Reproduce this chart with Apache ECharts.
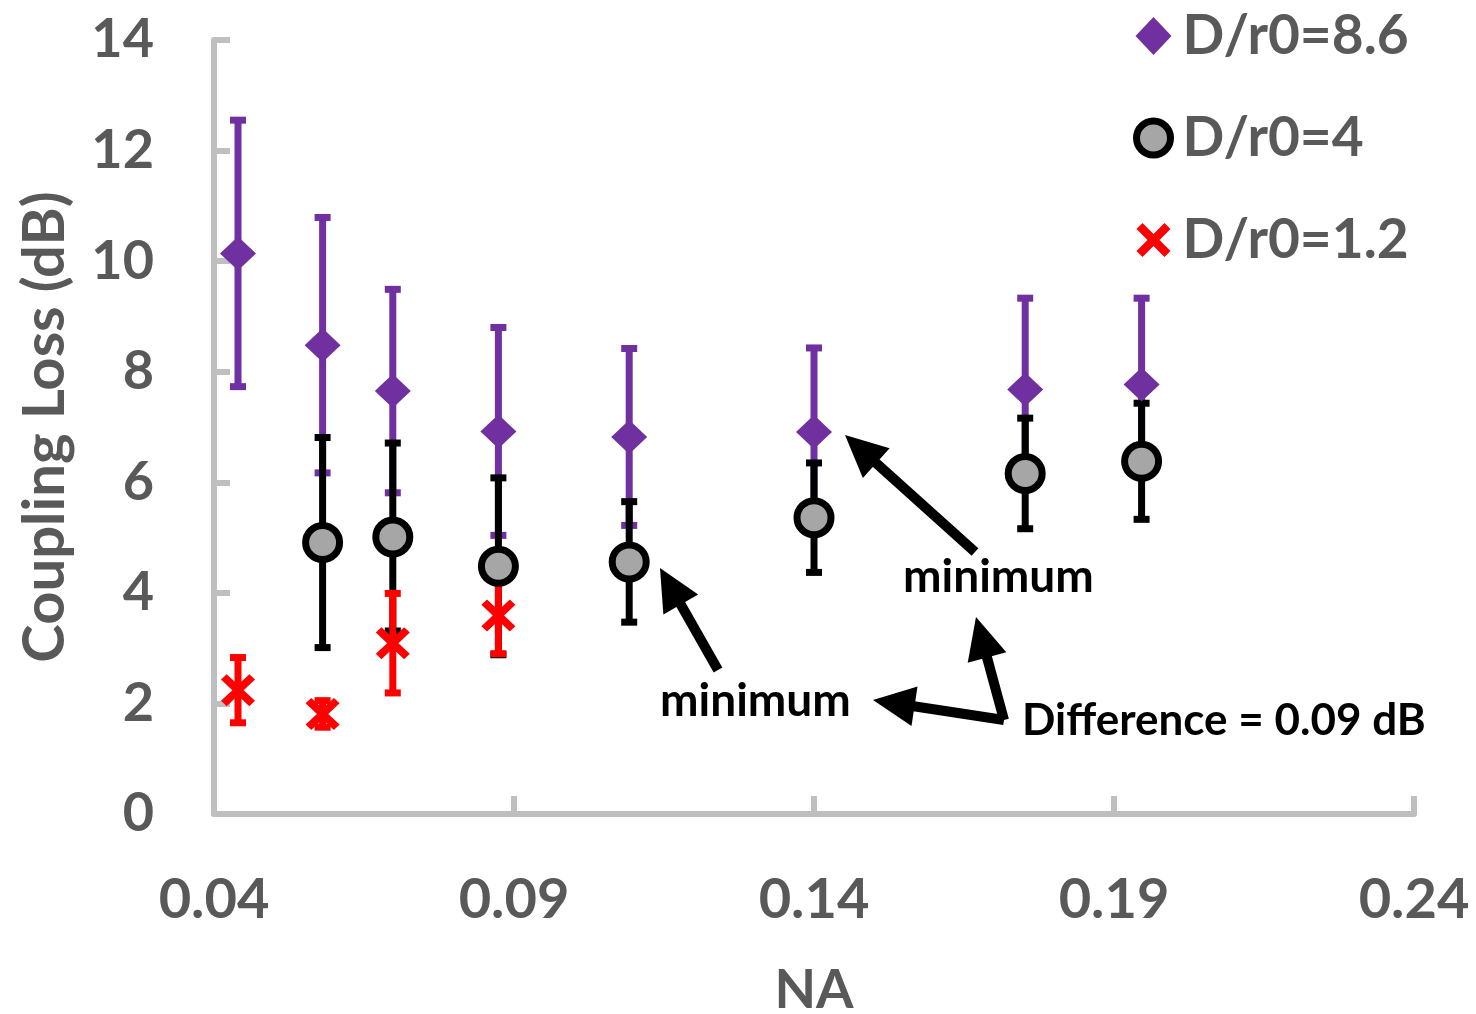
<!DOCTYPE html>
<html>
<head>
<meta charset="utf-8">
<script src="https://cdn.jsdelivr.net/npm/echarts@6/dist/echarts.min.js"></script>
<style>
  html, body { margin: 0; padding: 0; background: #fff; }
  #chart { width: 1476px; height: 1014px; }
</style>
</head>
<body>
<div id="chart"></div>
<script>
// data
const naPurple = [0.0440, 0.0581, 0.0698, 0.0874, 0.1092, 0.1400, 0.1752, 0.1946];
const lossPurple = [10.14, 8.48, 7.65, 6.92, 6.82, 6.91, 7.68, 7.77];
const errPurple = [2.41, 2.31, 1.84, 1.88, 1.60, 1.52, 1.65, 1.56];

const naBlack = [0.0581, 0.0698, 0.0874, 0.1092, 0.1400, 0.1752, 0.1946];
const lossBlack = [4.91, 5.01, 4.48, 4.56, 5.36, 6.16, 6.38];
const errBlack = [1.90, 1.70, 1.60, 1.09, 0.99, 1.00, 1.05];

const naRed = [0.0440, 0.0581, 0.0698, 0.0874];
const lossRed = [2.24, 1.81, 3.09, 3.59];
const errRed = [0.59, 0.24, 0.90, 0.69];

const xTicks = [0.04, 0.09, 0.14, 0.19, 0.24];
const seriesNames = ["D/r0=8.6", "D/r0=4", "D/r0=1.2"];

const GREY = "#595959";
const AXIS = "#BFBFBF";
const FONT = "Lato";
const crossPath = "path://M0,5L5,0L15,10L25,0L30,5L20,15L30,25L25,30L15,20L5,30L0,25L10,15Z";

function pts(xs, ys) {
  return xs.map((x, i) => [x, ys[i]]);
}
function bars(xs, ys, es) {
  return xs.map((x, i) => [x, ys[i] - es[i], ys[i] + es[i]]);
}

function errRender(color) {
  return function (params, api) {
    var top = api.coord([api.value(0), api.value(2)]);
    var bot = api.coord([api.value(0), api.value(1)]);
    var cap = 8;
    var st = { stroke: color, lineWidth: 7 };
    return {
      type: "group",
      children: [
        { type: "line", shape: { x1: top[0], y1: top[1], x2: bot[0], y2: bot[1] }, style: st },
        { type: "line", shape: { x1: top[0] - cap, y1: top[1], x2: top[0] + cap, y2: top[1] }, style: st },
        { type: "line", shape: { x1: bot[0] - cap, y1: bot[1], x2: bot[0] + cap, y2: bot[1] }, style: st },
      ],
    };
  };
}

// arrow annotation (pixel positions on the page)
function arrow(x1, y1, x2, y2) {
  var dx = x2 - x1, dy = y2 - y1;
  var len = Math.sqrt(dx * dx + dy * dy);
  var ux = dx / len, uy = dy / len;
  var L = 42, W = 20;
  var bx = x2 - ux * L, by = y2 - uy * L;
  return [
    { type: "line", shape: { x1: x1, y1: y1, x2: bx + ux * 4, y2: by + uy * 4 },
      style: { stroke: "#000", lineWidth: 10 }, z: 10 },
    { type: "polygon", shape: { points: [[x2, y2], [bx - uy * W, by + ux * W], [bx + uy * W, by - ux * W]] },
      style: { fill: "#000" }, z: 10 },
  ];
}

var chart = echarts.init(document.getElementById("chart"));

chart.setOption({
  animation: false,
  grid: { left: 214, right: 62, top: 40, bottom: 200, outerBoundsMode: "none" },
  legend: {
    orient: "vertical",
    left: 1125,
    top: 1,
    itemWidth: 40,
    itemHeight: 40,
    itemGap: 42,
    selectedMode: false,
    textStyle: { color: GREY, fontFamily: FONT, fontWeight: "bold", fontSize: 55, lineHeight: 60, padding: [0, 0, 0, 4] },
    data: [
      { name: seriesNames[0], icon: "path://M0,0M40,40M20,1L38,20L20,39L2,20Z" },
      { name: seriesNames[1], icon: "path://M0,0M40,40M37,20A17,17 0 1 1 3,20A17,17 0 1 1 37,20Z",
        itemStyle: { borderWidth: 7, borderColor: "#000" } },
      { name: seriesNames[2], icon: "path://M0,0M40,40M3,9L9,3L20,14L31,3L37,9L26,20L37,31L31,37L20,26L9,37L3,31L14,20Z" },
    ],
  },
  xAxis: {
    type: "value",
    min: 0.04,
    max: 0.24,
    name: "NA",
    nameLocation: "middle",
    nameGap: 150,
    nameTextStyle: { color: GREY, fontFamily: FONT, fontWeight: "bold", fontSize: 54 },
    axisLine: { lineStyle: { color: AXIS, width: 6 } },
    axisTick: { show: true, inside: true, length: 18, customValues: xTicks, lineStyle: { color: AXIS, width: 6 } },
    axisLabel: {
      customValues: xTicks,
      margin: 58,
      color: GREY,
      fontFamily: FONT,
      fontWeight: "bold",
      fontSize: 56,
      formatter: (v) => v.toFixed(2),
    },
    splitLine: { show: false },
  },
  yAxis: {
    type: "value",
    min: 0,
    max: 14,
    interval: 2,
    name: "Coupling Loss (dB)",
    nameLocation: "middle",
    nameGap: 140,
    nameTextStyle: { color: GREY, fontFamily: FONT, fontWeight: "bold", fontSize: 58 },
    axisLine: { show: true, lineStyle: { color: AXIS, width: 6 } },
    axisTick: { show: true, inside: true, length: 16, lineStyle: { color: AXIS, width: 6 } },
    axisLabel: { margin: 60, color: GREY, fontFamily: FONT, fontWeight: "bold", fontSize: 54 },
    splitLine: { show: false },
  },
  series: [
    { name: "err86", type: "custom", renderItem: errRender("#7030A0"), data: bars(naPurple, lossPurple, errPurple), z: 2 },
    { name: "err4", type: "custom", renderItem: errRender("#000000"), data: bars(naBlack, lossBlack, errBlack), z: 2 },
    { name: "err12", type: "custom", renderItem: errRender("#FF0000"), data: bars(naRed, lossRed, errRed), z: 2 },
    {
      name: seriesNames[0],
      type: "scatter",
      symbol: "diamond",
      symbolSize: [36, 34],
      itemStyle: { color: "#7030A0", opacity: 1 },
      data: pts(naPurple, lossPurple),
      z: 3,
    },
    {
      name: seriesNames[1],
      type: "scatter",
      symbol: "circle",
      symbolSize: 34,
      itemStyle: { color: "#A6A6A6", borderColor: "#000", borderWidth: 7, opacity: 1 },
      data: pts(naBlack, lossBlack),
      z: 3,
    },
    {
      name: seriesNames[2],
      type: "scatter",
      symbol: crossPath,
      symbolSize: [34, 32],
      itemStyle: { color: "#FF0000", opacity: 1 },
      data: pts(naRed, lossRed),
      z: 3,
    },
  ],
  graphic: [
    { type: "text", left: 903, top: 554, z: 10,
      style: { text: "minimum", fill: "#000", font: "bold 46px Lato" } },
    { type: "text", left: 660, top: 678, z: 10,
      style: { text: "minimum", fill: "#000", font: "bold 46px Lato" } },
    { type: "text", left: 1022, top: 699, z: 10,
      style: { text: "Difference = 0.09 dB", fill: "#000", font: "bold 44px Lato" } },
  ]
    .concat(arrow(975, 552, 845, 435))
    .concat(arrow(718, 670, 660, 568))
    .concat(arrow(1004, 720, 873, 700))
    .concat(arrow(1004, 720, 976, 617)),
});
</script>
</body>
</html>
